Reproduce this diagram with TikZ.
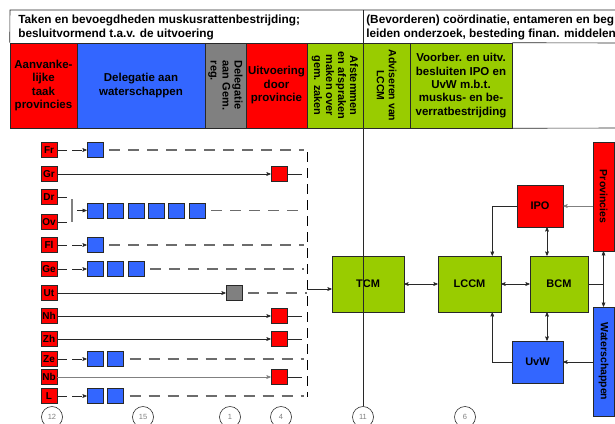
\documentclass[tikz,border=0pt]{standalone}
\usepackage{fontspec}
\setmainfont{Liberation Sans}
\usetikzlibrary{arrows,shapes}
\definecolor{rood}{RGB}{255,0,0}
\definecolor{blauw}{RGB}{51,102,255}
\definecolor{grijs}{RGB}{128,128,128}
\definecolor{groen}{RGB}{153,204,0}
\definecolor{lijn}{RGB}{40,40,40}

\tikzstyle{kol} = [rectangle, draw, inner sep=0pt, align=center,
    font=\bfseries\fontsize{11.5}{13.5}\selectfont]
\tikzstyle{kop} = [anchor=west, align=left, inner sep=0pt,
    font=\bfseries\fontsize{11.8}{13.5}\selectfont]
\tikzstyle{gem} = [rectangle, draw, fill=rood, inner sep=0pt,
    minimum width=16pt, minimum height=15pt, font=\bfseries\fontsize{10}{10}\selectfont]
\tikzstyle{ws} = [rectangle, draw, fill=blauw, minimum width=16pt, minimum height=15pt]
\tikzstyle{pv} = [ws, fill=rood]
\tikzstyle{regio} = [ws, fill=grijs]
\tikzstyle{orgaan} = [rectangle, draw, fill=groen, inner sep=0pt,
    font=\bfseries\fontsize{11}{11}\selectfont]
\tikzstyle{tel} = [circle, draw, minimum size=21pt, inner sep=0pt, text=gray,
    font=\fontsize{7.5}{7.5}\selectfont]
\tikzstyle{voor} = [->, lijn, dash pattern=on 10pt off 5pt]
\tikzstyle{na} = [gray!85!black, line width=1.2pt, dash pattern=on 11pt off 8pt]

\begin{document}
\begin{tikzpicture}[>=stealth', semithick, x=1pt, y=-1pt, color=lijn, text=black]
  \useasboundingbox (0,0) rectangle (615,423);

  % kopregel
  \node[kol, fill=rood, minimum width=67pt, minimum height=85pt] (aanv) at (43.5,85.5)
       {Aanvanke-\\lijke\\taak\\provincies};
  \node[kol, fill=blauw, minimum width=128pt, minimum height=85pt] (deleg) at (141,85.5)
       {Delegatie aan\\waterschappen};
  \node[kol, fill=grijs, rotate=-90, minimum width=85pt, minimum height=41pt, align=left,
        font=\bfseries\fontsize{11}{12}\selectfont] (gemreg) at (225.5,85.5)
       {Delegatie\\aan Gem.\\reg.};
  \node[kol, fill=rood, minimum width=61pt, minimum height=85pt] (uitv) at (276.5,85.5)
       {Uitvoering\\door\\provincie};
  \node[kol, fill=groen, rotate=-90, minimum width=85pt, minimum height=56pt,
        font=\bfseries\fontsize{11}{12}\selectfont] (afst) at (335,85.5)
       {Afstemmen\\en afspraken\\maken over\\gem. zaken};
  \node[kol, fill=groen, rotate=-90, minimum width=85pt, minimum height=47pt,
        font=\bfseries\fontsize{10.5}{12}\selectfont] (advis) at (386.5,85.5)
       {Adviseren van\\LCCM};
  \node[kol, fill=groen, minimum width=102pt, minimum height=85pt,
        font=\bfseries\fontsize{11.5}{13.3}\selectfont] (voorb) at (461,85.5)
       {Voorber. en uitv.\\besluiten IPO en\\UvW m.b.t.\\muskus- en be-\\verratbestrijding};
  \draw (615,10) -- (10,10) -- (aanv.north west);
  \draw (voorb.north east) -- (615,43);
  \draw (voorb.south east) -- (615,128);

  \node[kop] (kop1) at (18,27.5)
       {Taken en bevoegdheden muskusrattenbestrijding;\\besluitvormend t.a.v. de uitvoering};
  \node[kop] (kop2) at (366,27.5)
       {(Bevorderen) coördinatie, entameren en beg\\leiden onderzoek, besteding finan. middelen};

  % overleg
  \node[orgaan, minimum width=72pt, minimum height=56pt] (tcm) at (368,284) {TCM};
  \node[orgaan, minimum width=63pt, minimum height=56pt] (lccm) at (469.5,284) {LCCM};
  \node[orgaan, minimum width=58pt, minimum height=56pt] (bcm) at (559,284) {BCM};
  \node[orgaan, fill=rood, minimum width=46pt, minimum height=42pt] (ipo) at (540,206) {IPO};
  \node[orgaan, fill=blauw, minimum width=51pt, minimum height=42pt] (uvw) at (537.5,362) {UvW};
  \node[orgaan, fill=rood, rotate=-90, minimum width=109pt, minimum height=21pt,
        font=\bfseries\fontsize{10.5}{10.5}\selectfont] (prov) at (603.5,196.5) {Provincies};
  \node[orgaan, fill=blauw, rotate=-90, minimum width=109pt, minimum height=21pt,
        font=\bfseries\fontsize{10.5}{10.5}\selectfont] (wsch) at (603.5,361.5) {Waterschappen};

  \draw[<->] (tcm) -- (lccm);
  \draw[<->] (lccm) -- (bcm);
  \draw[->] (ipo.west) -| ([xshift=-9pt]lccm.north east);
  \draw[->] (uvw.west) -| ([xshift=-9pt]lccm.south east);
  \draw[<->] ([xshift=7pt]ipo.south) -- ([xshift=7pt]ipo.south |- bcm.north);
  \draw[<->] ([xshift=-12pt]bcm.south) -- ([xshift=-12pt]bcm.south |- uvw.north);
  \draw[->, gray] (ipo.east -| prov.south) -- (ipo.east);
  \draw[->] (uvw.east -| wsch.south) -- (uvw.east);
  \coordinate (knoop) at (bcm.east -| prov.center);
  \draw (bcm.east) -- (knoop);
  \draw[->] (knoop) -- (prov.east);
  \draw[->] (knoop) -- (wsch.west);

  % gebieden
  \foreach \naam/\tekst/\y in {fr/Fr/150, gr/Gr/174, dr/Dr/197, ov/Ov/222, fl/Fl/245,
      ge/Ge/269, ut/Ut/293, nh/Nh/316, zh/Zh/339, ze/Ze/359, nb/Nb/377, l/L/396}
    \node[gem] (\naam) at (49,\y) {\tekst};

  \foreach \r/\n/\y in {fr/1/150, drov/6/210.5, fl/1/245, ge/3/269, ze/2/359, l/2/396}
    \foreach \i in {1,...,\n}
      \node[ws] (\r\i) at ({74.6+20.4*\i},\y) {};
  \foreach \r/\y in {gr/174, nh/316, zh/339, nb/377}
    \node[pv] (\r1) at (279,\y) {};
  \node[regio] (ut1) at (234,293) {};

  \coordinate (eind) at (304,0);
  \coordinate (vtop) at (307,152);
  \coordinate (vbot) at (307,397);
  \coordinate (samen) at (307,289);
  \coordinate (balk1) at (72,199);
  \coordinate (balk2) at (72,222);
  \coordinate (drin) at (77,210.5);

  \foreach \r/\n in {fr/1, fl/1, ge/3, ze/2, l/2} {
    \draw[voor] (\r) -- (\r1);
    \draw[na] (\r\n.east) ++(6,0) -- (\r\n.east -| eind);
  }
  \draw (dr.east) -- ++(10,0);
  \draw (ov.east) -- ++(10,0);
  \draw[gray, line width=1.5pt] (balk1) -- (balk2);
  \draw[->] (drin) -- (drov1);
  \draw[na] (drov6.east) ++(6,0) -- (drov6.east -| eind);
  \foreach \r/\kl in {gr/lijn, nh/lijn, zh/lijn, nb/gray} {
    \draw[->, \kl] (\r) -- (\r1);
    \draw (\r1.east) -- ++(15,0);
  }
  \draw[->] (ut) -- (ut1);
  \draw[na] (ut1.east) ++(6,0) -- (ut1.east -| samen);
  \draw[black, thick, dash pattern=on 10pt off 6pt] (vtop) -- (vbot);
  \draw[->] (samen) -- (samen -| tcm.west);

  % aantallen
  \foreach \naam/\x/\t in {c12/52/12, c15/143/15, c1/230/1, c4/281/4, c11/363/11, c6/465/6}
    \node[tel] (\naam) at (\x,417) {\t};

  \coordinate (kopdeel) at (363,10);
  \draw (kopdeel) -- (c11.north);
\end{tikzpicture}
\end{document}
